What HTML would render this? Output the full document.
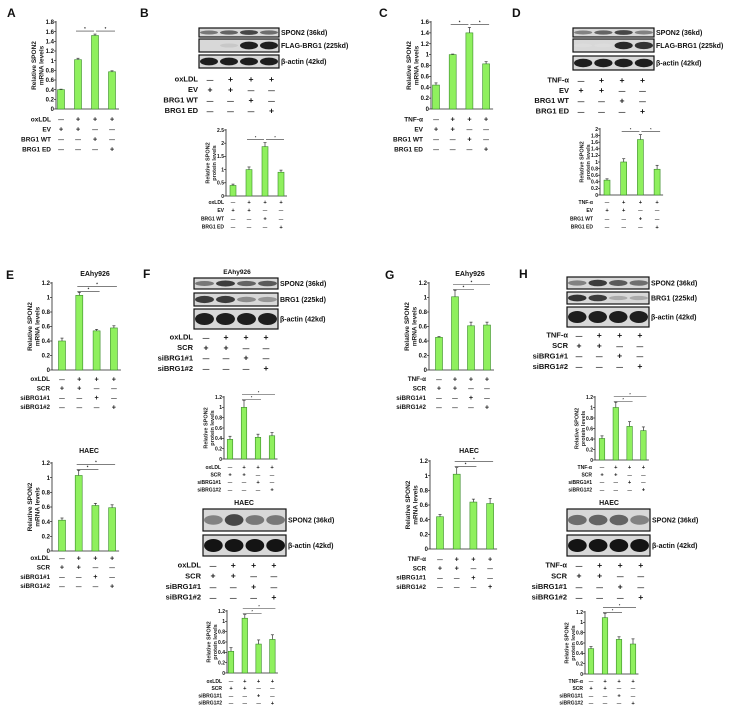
<!DOCTYPE html>
<html><head><meta charset="utf-8"><style>
html,body{margin:0;padding:0;background:#fff;}
svg{display:block;font-family:"Liberation Sans",Arial,sans-serif;font-weight:bold;}
</style></head><body>
<svg id="fig" width="742" height="707" viewBox="0 0 742 707" xmlns="http://www.w3.org/2000/svg"></svg>
<script>
// ---- data ----
const aVals=[0.4,1.02,1.52,0.77], aErrs=[0.01,0.03,0.03,0.02];
const bVals=[0.4,1.0,1.87,0.9], bErrs=[0.05,0.1,0.15,0.08];
const cVals=[0.44,1.0,1.4,0.83], cErrs=[0.04,0.01,0.1,0.04];
const dVals=[0.45,1.0,1.68,0.78], dErrs=[0.04,0.1,0.15,0.12];
const e1Vals=[0.4,1.03,0.54,0.58], e1Errs=[0.04,0.04,0.02,0.03];
const e2Vals=[0.42,1.03,0.62,0.59], e2Errs=[0.03,0.07,0.03,0.04];
const f1Vals=[0.38,1.0,0.42,0.45], f1Errs=[0.06,0.13,0.06,0.06];
const f2Vals=[0.42,1.06,0.56,0.65], f2Errs=[0.07,0.07,0.08,0.09];
const g1Vals=[0.45,1.01,0.61,0.62], g1Errs=[0.01,0.09,0.05,0.04];
const g2Vals=[0.44,1.02,0.64,0.62], g2Errs=[0.03,0.09,0.04,0.07];
const h1Vals=[0.41,1.0,0.64,0.56], h1Errs=[0.05,0.1,0.09,0.07];
const h2Vals=[0.49,1.09,0.67,0.58], h2Errs=[0.04,0.08,0.05,0.1];
const ticks18=[0,0.2,0.4,0.6,0.8,1,1.2,1.4,1.6,1.8];
const ticks25=[0,0.5,1,1.5,2,2.5];
const ticks16=[0,0.2,0.4,0.6,0.8,1,1.2,1.4,1.6];
const ticks20=[0,0.2,0.4,0.6,0.8,1,1.2,1.4,1.6,1.8,2];
const ticks12=[0,0.2,0.4,0.6,0.8,1,1.2];
const condOx=["oxLDL","EV","BRG1 WT","BRG1 ED"];
const condTnf=["TNF-\u03b1","EV","BRG1 WT","BRG1 ED"];
const condOxSi=["oxLDL","SCR","siBRG1#1","siBRG1#2"];
const condTnfSi=["TNF-\u03b1","SCR","siBRG1#1","siBRG1#2"];
const signsOE=[["-","+","+","+"],["+","+","-","-"],["-","-","+","-"],["-","-","-","+"]];
const signsSi=[["-","+","+","+"],["+","+","-","-"],["-","-","+","-"],["-","-","-","+"]];
// band intensities per lane (0..1)
const bSpon=[0.5,0.6,0.75,0.55], bFlag=[0.02,0.1,0.95,0.95], bAct=[0.95,0.95,0.95,0.95];
const dSpon=[0.45,0.6,0.75,0.45], dFlag=[0.0,0.0,0.9,0.85], dAct=[0.95,0.95,0.95,0.95];
const fSpon=[0.5,0.8,0.6,0.65], fBrg=[0.8,0.8,0.4,0.35], fAct=[0.95,0.95,0.95,0.95];
const f2Spon=[0.45,0.75,0.5,0.5], f2Act=[1,1,1,1];
const hSpon=[0.45,0.8,0.65,0.55], hBrg=[0.85,0.8,0.25,0.25], hAct=[0.95,0.95,0.95,0.95];
const h2Spon=[0.55,0.6,0.6,0.45], h2Act=[1,1,1,1];

const svg=document.getElementById('fig');
const NS='http://www.w3.org/2000/svg';
function el(tag,attrs,parent){const e=document.createElementNS(NS,tag);for(const k in attrs)e.setAttribute(k,attrs[k]);(parent||svg).appendChild(e);return e;}
function txt(x,y,s,fs,anchor,parent){const t=el('text',{x:x,y:y,'font-size':fs,'text-anchor':anchor||'start',fill:'#111'},parent);t.textContent=s;return t;}

function chart(name,ax,yTop,yBot,x0,dx,bw,vals,errs,ticks,fs,yl,sig){
  const g=el('g',{});
  
  
  const max=ticks[ticks.length-1];
  const ys=v=>yBot-(v/max)*(yBot-yTop);
  const xs=i=>x0+i*dx;
  el('line',{x1:ax,y1:yTop-1,x2:ax,y2:yBot,stroke:'#222','stroke-width':0.8},g);
  el('line',{x1:ax,y1:yBot,x2:xs(3)+bw,y2:yBot,stroke:'#222','stroke-width':0.8},g);
  ticks.forEach(t=>{const y=ys(t);el('line',{x1:ax-2,y1:y,x2:ax,y2:y,stroke:'#222','stroke-width':0.7},g);
    const l=txt(ax-2,y+fs*0.35,String(t),fs,'end',g);});
  vals.forEach((v,i)=>{const x=xs(i);
    const r=el('rect',{x:x-bw/2,y:ys(v),width:bw,height:yBot-ys(v),fill:'#8ff05e',stroke:'#3a8a2a','stroke-width':0.6},g);
    
    
    const ye=ys(v+errs[i]);
    el('line',{x1:x,y1:ys(v),x2:x,y2:ye,stroke:'#333','stroke-width':0.7},g);
    el('line',{x1:x-1.5,y1:ye,x2:x+1.5,y2:ye,stroke:'#333','stroke-width':0.7},g);});
  // y axis title
  const cy=(yTop+yBot)/2, tx=ax-fs*3.3;
  const t=el('text',{transform:`translate(${tx},${cy}) rotate(-90)`,'font-size':fs+0.5,'text-anchor':'middle',fill:'#222'},g);
  
  
  el('tspan',{x:0,dy:0},t).textContent='Relative SPON2';
  el('tspan',{x:0,dy:fs+1.5},t).textContent=yl;
  // significance
  const top=Math.max(...vals.map((v,i)=>v+errs[i]));
  const sy=ys(top)-3;
  const pairs= sig==='adj'?[[1,2,sy],[2,3,sy]]:[[1,2,sy+2],[1,3,sy-3]];
  pairs.forEach(p=>{const x1=xs(p[0])+(sig==='adj'&&p[0]===2?1:-2),x2=xs(p[1])+(sig==='adj'&&p[1]===2?-1:3);
    el('line',{x1:x1,y1:p[2],x2:x2,y2:p[2],stroke:'#333','stroke-width':0.6},g);
    txt((x1+x2)/2,p[2]-1,'*',fs*0.7,'middle',g);});
  return g;
}
function cond(name,labels,signs,lx,c0,dc,y0,dy,fs){
  const g=el('g',{});
  
  
  labels.forEach((l,r)=>{const y=y0+r*dy;
    const t=txt(lx,y+fs*0.35,l,fs,'end',g);
    signs[r].forEach((s,c)=>{txt(c0+c*dc,y+fs*0.38,s==='+'?'+':'\u2014',fs*(s==='+'?1.15:0.9),'middle',g);});});
}
function blot(name,x1,x2,rows,fs){
  const g=el('g',{});
  
  
  rows.forEach(r=>{const [y1,y2,lab,ints]=r;
    el('rect',{x:x1,y:y1,width:x2-x1,height:y2-y1,fill:'#d8d8d8',stroke:'#111','stroke-width':1.2},g);
    const lw=(x2-x1)/4;
    ints.forEach((v,i)=>{const c=Math.round(220-200*v);
      el('ellipse',{cx:x1+lw*(i+0.5),cy:(y1+y2)/2,rx:lw*0.45,ry:Math.max(1.5,(y2-y1)*0.28*(0.5+v*0.6)),fill:`rgb(${c},${c},${c})`},g);});
    const t=txt(x2+2,(y1+y2)/2+fs*0.35,lab,fs,'start',g);});
}
function panel(l,x,y){const t=txt(x,y,l,12,'start');}
function title(s,x,y,fs){const t=txt(x,y,s,fs||7,'middle');}

// A
panel('A',7,17);
chart('chart-a',56,22,109,61,17,7,aVals,aErrs,ticks18,6,'mRNA levels','adj');
cond('conditions-a',condOx,signsOE,51,61,17,119,10,6.5);
// B
panel('B',140,17);
blot('blot-b',199,279,[[28,37,'SPON2 (36kd)',bSpon],[39,52,'FLAG-BRG1 (225kd)',bFlag],[55,68,'\u03b2-actin (42kd)',bAct]],7);
cond('conditions-b',condOx,signsOE,198,210,20.5,79,10.5,7.5);
chart('chart-b',226,130,196,233,16,6,bVals,bErrs,ticks25,5,'protein levels','adj');
cond('conditions-b-chart',condOx,signsOE,224,233,16,202,8.3,5);
// C
panel('C',379,17);
chart('chart-c',431,22,109,436,16.7,7,cVals,cErrs,ticks16,6,'mRNA levels','adj');
cond('conditions-c',condTnf,signsOE,423,436,16.7,119,10,6.5);
// D
panel('D',512,17);
blot('blot-d',573,654,[[28,37,'SPON2 (36kd)',dSpon],[39,52,'FLAG-BRG1 (225kd)',dFlag],[56,70,'\u03b2-actin (42kd)',dAct]],7);
cond('conditions-d',condTnf,signsOE,569,581,20.5,80,10.3,7.5);
chart('chart-d',600,129,195,607,16.7,6,dVals,dErrs,ticks20,5,'protein levels','adj');
cond('conditions-d-chart',condTnf,signsOE,593,607,16.7,202,8.3,5);
// E
panel('E',6,279);
title('EAhy926',95,276);
chart('chart-e-eahy',52,283,370,62,17.3,7,e1Vals,e1Errs,ticks12,6,'mRNA levels','nest');
cond('conditions-e-eahy',condOxSi,signsSi,50,62,17.3,379,9.3,6.3);
title('HAEC',89,453);
chart('chart-e-haec',52,463,551,62,16.7,7,e2Vals,e2Errs,ticks12,6,'mRNA levels','nest');
cond('conditions-e-haec',condOxSi,signsSi,50,62,16.7,558,9.3,6.3);
// F
panel('F',143,278);
title('EAhy926',237,274,6.5);
blot('blot-f-eahy',194,278,[[278,289,'SPON2 (36kd)',fSpon],[293,306,'BRG1 (225kd)',fBrg],[309,329,'\u03b2-actin (42kd)',fAct]],7);
cond('conditions-f-eahy',condOxSi,signsSi,193,206,20,337,10.4,7.5);
chart('chart-f-eahy',224,397,459,230,14,5.5,f1Vals,f1Errs,ticks12,5,'protein levels','nest');
cond('conditions-f-eahy-chart',condOxSi,signsSi,221,230,14,467,7.6,5);
title('HAEC',244,505,7);
blot('blot-f-haec',203,286,[[509,531,'SPON2 (36kd)',f2Spon],[535,556,'\u03b2-actin (42kd)',f2Act]],7);
cond('conditions-f-haec',condOxSi,signsSi,201,213,20.3,565,10.7,7.5);
chart('chart-f-haec',227,611,673,231,13.8,5.5,f2Vals,f2Errs,ticks12,5,'protein levels','nest');
cond('conditions-f-haec-chart',condOxSi,signsSi,222,231,13.8,681,7.3,5);
// G
panel('G',385,279);
title('EAhy926',470,276);
chart('chart-g-eahy',429,283,370,439,16,7,g1Vals,g1Errs,ticks12,6,'mRNA levels','nest');
cond('conditions-g-eahy',condTnfSi,signsSi,426,439,16,379,9.3,6.3);
title('HAEC',469,453);
chart('chart-g-haec',430,461,549,440,16.7,7,g2Vals,g2Errs,ticks12,6,'mRNA levels','nest');
cond('conditions-g-haec',condTnfSi,signsSi,426,440,16.7,559,9.2,6.3);
// H
panel('H',519,278);
title('EAhy926',608,284,6.5);
blot('blot-h-eahy',567,649,[[277,289,'SPON2 (36kd)',hSpon],[292,304,'BRG1 (225kd)',hBrg],[307,327,'\u03b2-actin (42kd)',hAct]],7);
cond('conditions-h-eahy',condTnfSi,signsSi,568,579,20.3,335,10.4,7.5);
chart('chart-h-eahy',595,397,460,602,13.8,5.5,h1Vals,h1Errs,ticks12,5,'protein levels','nest');
cond('conditions-h-eahy-chart',condTnfSi,signsSi,592,602,13.8,467,7.6,5);
title('HAEC',609,505,7);
blot('blot-h-haec',567,650,[[509,531,'SPON2 (36kd)',h2Spon],[535,556,'\u03b2-actin (42kd)',h2Act]],7);
cond('conditions-h-haec',condTnfSi,signsSi,567,579,20.6,565,10.7,7.5);
chart('chart-h-haec',585,612,674,591,14,5.5,h2Vals,h2Errs,ticks12,5,'protein levels','nest');
cond('conditions-h-haec-chart',condTnfSi,signsSi,583,591,14,681,7.3,5);
</script>
</body></html>
